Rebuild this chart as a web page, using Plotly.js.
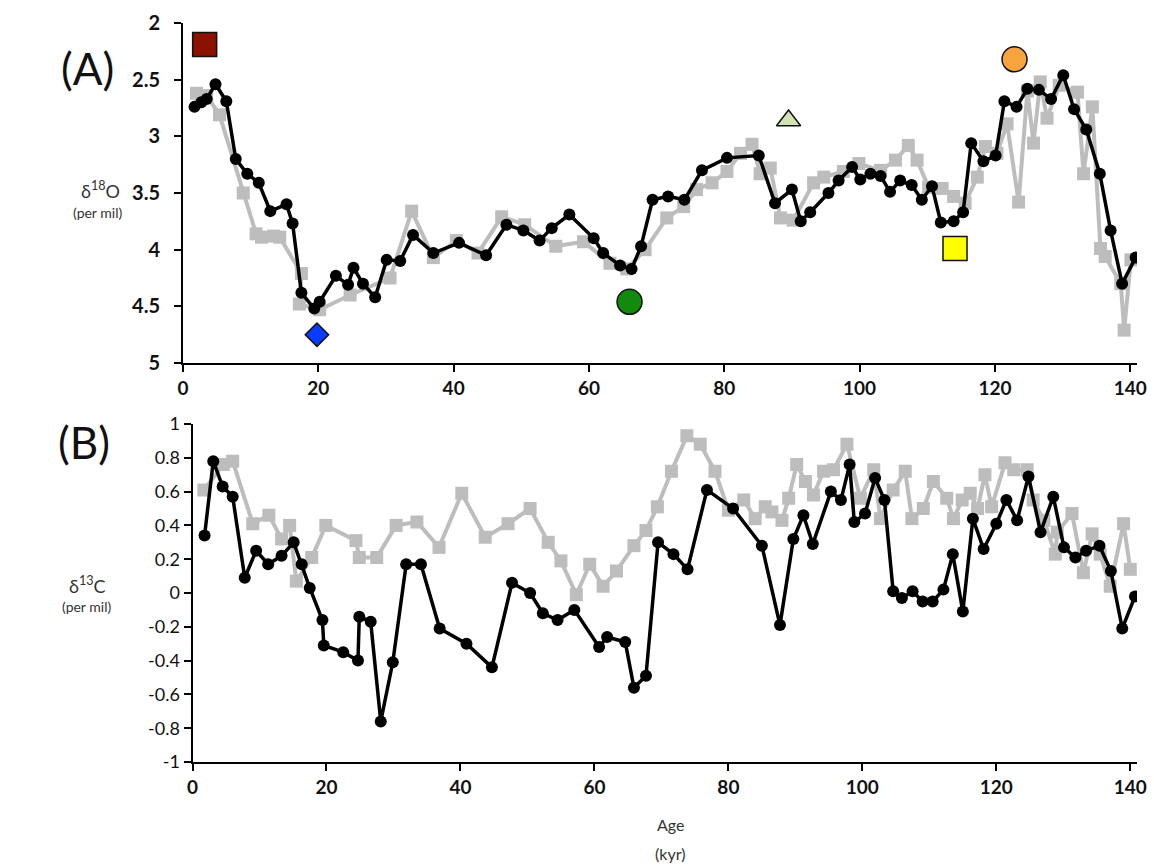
<!DOCTYPE html>
<html>
<head>
<meta charset="utf-8">
<script src="https://cdn.plot.ly/plotly-3.0.1.min.js"></script>
<style>html,body{margin:0;padding:0;background:#fff;}#chart{width:1154px;height:867px;}</style>
</head>
<body>
<div id="chart"></div>
<script>
// Panel A: delta 18O (per mil) vs Age (kyr)
const ageA_black = [1.7, 2.7, 3.5, 4.8, 6.4, 7.8, 9.5, 11.2, 12.9, 15.3, 16.2, 17.5, 19.4, 20.2, 22.6, 24.4, 25.2, 26.6, 28.4, 30.1, 32.1, 34.0, 37.0, 40.8, 44.8, 47.8, 50.3, 52.7, 54.5, 57.1, 60.7, 62.1, 64.6, 66.3, 67.7, 69.4, 71.7, 74.1, 76.7, 80.4, 85.1, 87.5, 90.0, 91.3, 92.7, 95.4, 96.9, 98.9, 100.1, 101.6, 103.1, 104.5, 106.0, 107.7, 109.2, 110.7, 112.0, 113.9, 115.3, 116.5, 118.3, 120.1, 121.4, 123.2, 124.8, 126.5, 128.3, 130.1, 131.7, 133.5, 135.5, 137.1, 138.8, 140.8];
const d18O_black = [2.74, 2.70, 2.67, 2.54, 2.69, 3.20, 3.33, 3.41, 3.66, 3.60, 3.77, 4.38, 4.52, 4.46, 4.23, 4.31, 4.16, 4.30, 4.42, 4.09, 4.10, 3.87, 4.03, 3.94, 4.05, 3.78, 3.83, 3.92, 3.81, 3.69, 3.90, 4.03, 4.14, 4.17, 3.97, 3.56, 3.53, 3.56, 3.30, 3.19, 3.17, 3.59, 3.47, 3.75, 3.67, 3.50, 3.39, 3.27, 3.38, 3.33, 3.35, 3.49, 3.39, 3.43, 3.56, 3.44, 3.76, 3.75, 3.67, 3.06, 3.22, 3.17, 2.69, 2.74, 2.58, 2.59, 2.67, 2.46, 2.76, 2.94, 3.33, 3.83, 4.30, 4.07];

const ageA_grey = [2.0, 3.5, 5.4, 8.9, 10.8, 11.6, 13.4, 14.3, 17.5, 17.2, 20.2, 24.7, 30.6, 33.8, 37.0, 40.4, 43.6, 47.1, 50.5, 55.1, 59.2, 63.1, 65.6, 68.3, 71.5, 74.0, 75.9, 78.2, 80.4, 82.4, 84.1, 85.3, 86.8, 88.3, 90.2, 93.2, 94.7, 97.6, 99.9, 103.1, 105.3, 107.2, 108.5, 110.2, 112.2, 113.9, 115.6, 117.4, 118.6, 120.3, 121.8, 123.5, 124.8, 125.7, 126.7, 127.7, 129.5, 132.2, 133.1, 134.4, 135.6, 136.3, 138.6, 139.1, 140.1];
const d18O_grey = [2.62, 2.64, 2.81, 3.50, 3.86, 3.89, 3.88, 3.89, 4.21, 4.48, 4.53, 4.40, 4.25, 3.66, 4.07, 3.92, 4.03, 3.71, 3.78, 3.97, 3.93, 4.12, 4.17, 4.00, 3.72, 3.62, 3.47, 3.41, 3.31, 3.15, 3.07, 3.33, 3.28, 3.72, 3.74, 3.41, 3.36, 3.31, 3.24, 3.30, 3.21, 3.08, 3.21, 3.45, 3.46, 3.53, 3.59, 3.36, 3.09, 3.15, 2.89, 3.58, 2.60, 3.06, 2.52, 2.84, 2.55, 2.61, 3.33, 2.74, 3.99, 4.06, 4.30, 4.71, 4.09];

// Highlight symbols in panel A
const markAge = [3.2, 19.8, 66.0, 89.5, 114.1, 122.9];
const markVal = [2.19, 4.75, 4.46, 2.86, 3.99, 2.32];
const markSymbol = ['square', 'diamond', 'circle', 'triangle-up', 'square', 'circle'];
const markColor = ['#8b1100', '#0a3cff', '#128a0c', '#d3e2b3', '#ffff00', '#f7a43f'];
const markSize = [24, 18, 25, 21, 24, 25];

// Panel B: delta 13C (per mil) vs Age (kyr)
const ageB_black = [1.8, 3.1, 4.5, 6.0, 7.8, 9.5, 11.3, 13.3, 15.1, 16.3, 17.5, 19.4, 19.6, 22.5, 24.7, 24.9, 26.6, 28.1, 29.9, 31.9, 34.1, 36.9, 40.9, 44.7, 47.7, 50.4, 52.3, 54.5, 57.0, 60.7, 61.9, 64.6, 65.9, 67.7, 69.5, 71.8, 73.9, 76.8, 80.7, 85.0, 87.7, 89.7, 91.2, 92.6, 95.3, 96.8, 98.1, 98.8, 100.4, 101.9, 103.3, 104.6, 105.9, 107.5, 109.0, 110.5, 112.1, 113.5, 115.0, 116.5, 118.1, 120.0, 121.5, 123.1, 124.8, 126.6, 128.5, 130.1, 131.8, 133.4, 135.4, 137.1, 138.8, 140.7];
const d13C_black = [0.34, 0.78, 0.63, 0.57, 0.09, 0.25, 0.17, 0.22, 0.30, 0.17, 0.03, -0.16, -0.31, -0.35, -0.40, -0.14, -0.17, -0.76, -0.41, 0.17, 0.17, -0.21, -0.30, -0.44, 0.06, 0.00, -0.12, -0.16, -0.10, -0.32, -0.26, -0.29, -0.56, -0.49, 0.30, 0.23, 0.14, 0.61, 0.50, 0.28, -0.19, 0.32, 0.46, 0.29, 0.60, 0.55, 0.76, 0.42, 0.47, 0.68, 0.55, 0.01, -0.03, 0.01, -0.05, -0.05, 0.02, 0.23, -0.11, 0.44, 0.26, 0.41, 0.55, 0.43, 0.69, 0.36, 0.57, 0.27, 0.21, 0.25, 0.28, 0.13, -0.21, -0.02];

const ageB_grey = [1.7, 4.6, 6.0, 9.0, 11.4, 13.3, 14.5, 15.5, 17.8, 19.9, 24.4, 24.9, 27.5, 30.4, 33.5, 36.8, 40.2, 43.7, 47.1, 50.4, 53.1, 55.0, 57.3, 59.3, 61.3, 63.3, 65.9, 67.7, 69.4, 71.5, 73.8, 75.8, 78.0, 80.0, 82.3, 84.0, 85.5, 86.5, 88.0, 89.0, 90.2, 91.5, 92.7, 94.2, 95.7, 97.7, 99.7, 101.7, 102.7, 104.6, 106.4, 107.4, 109.1, 110.6, 112.6, 113.6, 114.9, 116.1, 117.2, 118.3, 119.3, 121.3, 122.6, 124.6, 125.5, 127.1, 128.8, 129.1, 131.3, 133.0, 134.3, 135.5, 137.0, 139.0, 140.0];
const d13C_grey = [0.61, 0.76, 0.78, 0.41, 0.46, 0.32, 0.40, 0.07, 0.21, 0.40, 0.31, 0.21, 0.21, 0.40, 0.42, 0.27, 0.59, 0.33, 0.41, 0.50, 0.30, 0.19, -0.01, 0.17, 0.04, 0.13, 0.28, 0.37, 0.51, 0.72, 0.93, 0.88, 0.72, 0.49, 0.55, 0.44, 0.51, 0.48, 0.43, 0.56, 0.76, 0.66, 0.58, 0.72, 0.73, 0.88, 0.56, 0.73, 0.44, 0.61, 0.72, 0.44, 0.50, 0.66, 0.56, 0.44, 0.55, 0.59, 0.50, 0.70, 0.51, 0.77, 0.73, 0.73, 0.55, 0.43, 0.23, 0.36, 0.47, 0.12, 0.35, 0.23, 0.04, 0.41, 0.14];

const xTicks = [0, 20, 40, 60, 80, 100, 120, 140];
const yTicksA = [2, 2.5, 3, 3.5, 4, 4.5, 5];
const yTicksB = [1, 0.8, 0.6, 0.4, 0.2, 0, -0.2, -0.4, -0.6, -0.8, -1];
const yTickTextB = ['1', '0.8', '0.6', '0.4', '0.2', '0', '-0.2', '-0.4', '-0.6', '-0.8', '-1'];

const W = 1154, H = 867;
const px = v => v / W;
const py = v => 1 - v / H;

const GREY = '#bdbdbd';
const FONT = 'Lato, "Open Sans", sans-serif';

const traces = [
  {x: ageA_grey, y: d18O_grey, xaxis: 'x', yaxis: 'y', mode: 'lines+markers',
   line: {color: GREY, width: 4}, marker: {symbol: 'square', size: 13, color: GREY, opacity: 1}, hoverinfo: 'skip'},
  {x: ageA_black, y: d18O_black, xaxis: 'x', yaxis: 'y', mode: 'lines+markers',
   line: {color: '#000', width: 3.5}, marker: {symbol: 'circle', size: 12, color: '#000', opacity: 1}, hoverinfo: 'skip'},
  {x: markAge, y: markVal, xaxis: 'x', yaxis: 'y', mode: 'markers',
   marker: {symbol: markSymbol, size: markSize, color: markColor, opacity: 1, line: {color: '#111', width: 1.5}}, hoverinfo: 'skip'},
  {x: ageB_grey, y: d13C_grey, xaxis: 'x2', yaxis: 'y2', mode: 'lines+markers',
   line: {color: GREY, width: 4}, marker: {symbol: 'square', size: 13, color: GREY, opacity: 1}, hoverinfo: 'skip'},
  {x: ageB_black, y: d13C_black, xaxis: 'x2', yaxis: 'y2', mode: 'lines+markers',
   line: {color: '#000', width: 3.5}, marker: {symbol: 'circle', size: 12, color: '#000', opacity: 1}, hoverinfo: 'skip'}
];

const axCommon = {
  showgrid: false, zeroline: false, showline: true, linecolor: '#000', linewidth: 2,
  ticks: 'outside', ticklen: 7, tickwidth: 2, tickcolor: '#000'
};

const layout = {
  width: W, height: H,
  margin: {l: 0, r: 0, t: 0, b: 0},
  paper_bgcolor: '#fff', plot_bgcolor: '#fff',
  showlegend: false,
  font: {family: FONT, color: '#111'},
  xaxis: Object.assign({}, axCommon, {
    domain: [px(183), px(1137)], range: [0, 141], anchor: 'y',
    tickvals: xTicks, ticktext: xTicks.map(String),
    tickfont: {family: FONT, size: 19, weight: 700, color: '#111'}
  }),
  yaxis: Object.assign({}, axCommon, {
    domain: [py(363), py(23)], range: [5, 2], anchor: 'x',
    tickvals: yTicksA, ticktext: yTicksA.map(String),
    ticklabelstandoff: 10,
    tickfont: {family: FONT, size: 20, weight: 700, color: '#111'}
  }),
  xaxis2: Object.assign({}, axCommon, {
    domain: [px(192.5), px(1137)], range: [0, 141], anchor: 'y2',
    tickvals: xTicks, ticktext: xTicks.map(String),
    tickfont: {family: FONT, size: 19, weight: 700, color: '#111'}
  }),
  yaxis2: Object.assign({}, axCommon, {
    domain: [py(762), py(424)], range: [-1, 1], anchor: 'x2',
    tickvals: yTicksB, ticktext: yTickTextB,
    tickfont: {family: FONT, size: 18, color: '#111'}
  }),
  annotations: [
    {text: '(A)', x: px(87), y: py(68), xref: 'paper', yref: 'paper', showarrow: false,
     font: {family: FONT, size: 44, color: '#111'}, xanchor: 'center', yanchor: 'middle'},
    {text: '(B)', x: px(84), y: py(442), xref: 'paper', yref: 'paper', showarrow: false,
     font: {family: FONT, size: 44, color: '#111'}, xanchor: 'center', yanchor: 'middle'},
    {text: 'δ<sup>18</sup>O', x: px(100), y: py(190), xref: 'paper', yref: 'paper', showarrow: false,
     font: {family: FONT, size: 18, color: '#333'}, xanchor: 'center', yanchor: 'middle'},
    {text: '(per mil)', x: px(97), y: py(212), xref: 'paper', yref: 'paper', showarrow: false,
     font: {family: FONT, size: 14, color: '#333'}, xanchor: 'center', yanchor: 'middle'},
    {text: 'δ<sup>13</sup>C', x: px(87), y: py(585), xref: 'paper', yref: 'paper', showarrow: false,
     font: {family: FONT, size: 18, color: '#333'}, xanchor: 'center', yanchor: 'middle'},
    {text: '(per mil)', x: px(86), y: py(606), xref: 'paper', yref: 'paper', showarrow: false,
     font: {family: FONT, size: 14, color: '#333'}, xanchor: 'center', yanchor: 'middle'},
    {text: 'Age', x: px(670), y: py(824), xref: 'paper', yref: 'paper', showarrow: false,
     font: {family: FONT, size: 16, color: '#333'}, xanchor: 'center', yanchor: 'middle'},
    {text: '(kyr)', x: px(670), y: py(853), xref: 'paper', yref: 'paper', showarrow: false,
     font: {family: FONT, size: 16, color: '#333'}, xanchor: 'center', yanchor: 'middle'}
  ]
};

Plotly.newPlot('chart', traces, layout, {staticPlot: true, displayModeBar: false});
</script>
</body>
</html>
